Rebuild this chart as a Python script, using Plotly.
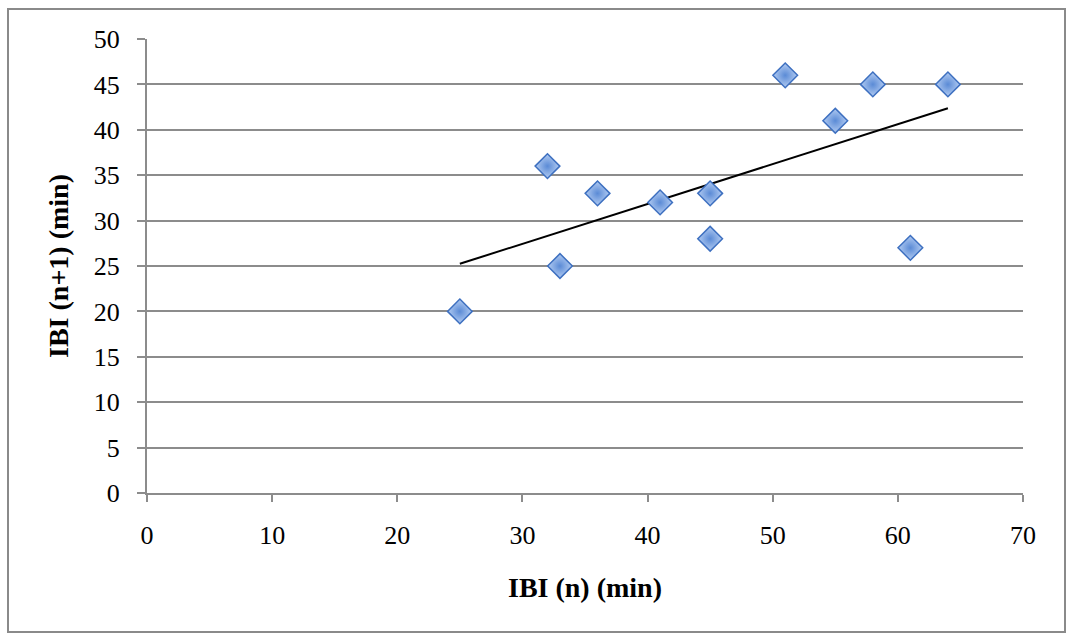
import numpy as np
import plotly.graph_objects as go

# Inter-burst intervals: IBI(n) against the following IBI(n+1), minutes
ibi_n = [25, 32, 33, 36, 41, 45, 45, 51, 55, 58, 61, 64]
ibi_next = [20, 36, 25, 33, 32, 33, 28, 46, 41, 45, 27, 45]

x_ticks = [0, 10, 20, 30, 40, 50, 60, 70]
y_ticks = [0, 5, 10, 15, 20, 25, 30, 35, 40, 45, 50]

# Least-squares linear trendline across the data range
slope, intercept = np.polyfit(ibi_n, ibi_next, 1)
trend_x = [min(ibi_n), max(ibi_n)]
trend_y = [slope * v + intercept for v in trend_x]

FONT = "Liberation Serif"
GRID = "#8c8c8c"
TICK_SIZE = 26
TITLE_SIZE = 28

fig = go.Figure()
fig.add_trace(go.Scatter(
    x=trend_x, y=trend_y, mode="lines",
    line=dict(color="black", width=2),
    hoverinfo="skip", showlegend=False,
))
fig.add_trace(go.Scatter(
    x=ibi_n, y=ibi_next, mode="markers",
    marker=dict(
        symbol="diamond", size=19, color="#b3ccf2",
        gradient=dict(type="radial", color="#5b8bd6"),
        line=dict(color="#3e70c0", width=1.5),
    ),
    showlegend=False,
))

W, H = 1070, 634
L, R, T, B = 147, 47, 39, 141
pw, ph = W - L - R, H - T - B


def px_to_paper_x(px):
    return (px - L) / pw


def px_to_paper_y(py):
    return (H - B - py) / ph


fig.update_layout(
    width=W, height=H,
    margin=dict(l=L, r=R, t=T, b=B),
    paper_bgcolor="white", plot_bgcolor="white",
    font=dict(family=FONT, size=TICK_SIZE, color="black"),
    shapes=[dict(
        type="rect", xref="paper", yref="paper", layer="below",
        x0=px_to_paper_x(8), x1=px_to_paper_x(1065),
        y0=px_to_paper_y(632), y1=px_to_paper_y(9),
        line=dict(color="#8a8a8a", width=2), fillcolor="rgba(0,0,0,0)",
    )],
)
fig.update_xaxes(
    range=[0, 70], tickvals=x_ticks, showgrid=False, zeroline=False,
    showline=True, linecolor=GRID, linewidth=2,
    ticks="outside", ticklen=7, tickwidth=2, tickcolor=GRID,
    ticklabelstandoff=11,
    tickfont=dict(family=FONT, size=TICK_SIZE, color="black"),
    title=dict(text="<b>IBI (n) (min)</b>", standoff=28,
               font=dict(family=FONT, size=TITLE_SIZE, color="black")),
)
fig.update_yaxes(
    range=[0, 50], tickvals=y_ticks, showgrid=True, gridcolor=GRID, gridwidth=1.5,
    zeroline=False, showline=True, linecolor=GRID, linewidth=2,
    ticks="outside", ticklen=8, tickwidth=2, tickcolor=GRID,
    ticklabelstandoff=12,
    tickfont=dict(family=FONT, size=TICK_SIZE, color="black"),
    title=dict(text="<b>IBI (n+1) (min)</b>", standoff=17,
               font=dict(family=FONT, size=TITLE_SIZE, color="black")),
)

fig.write_html("out.html")
